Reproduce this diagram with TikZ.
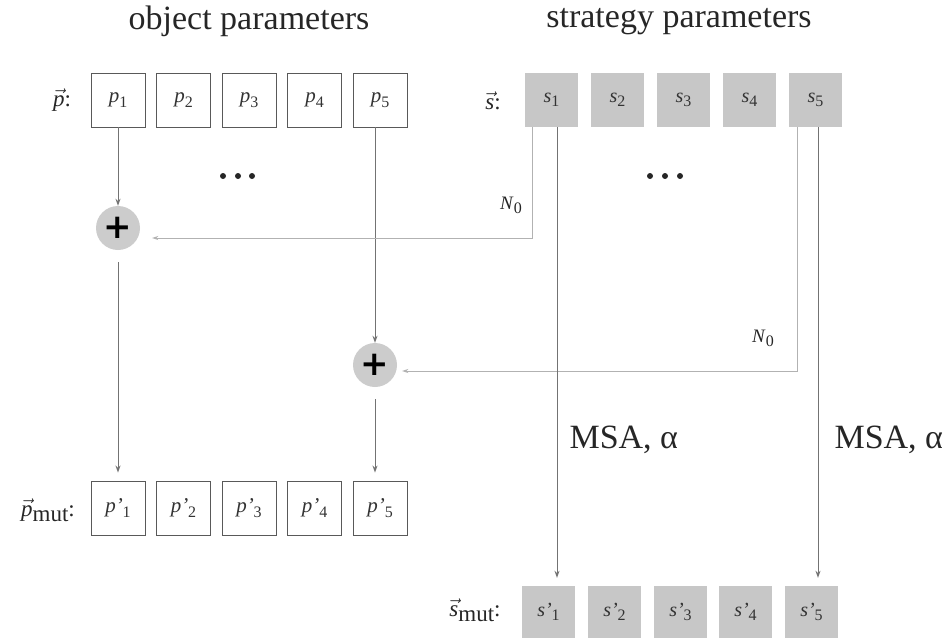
\documentclass[tikz,border=0pt]{standalone}
\usepackage{fontspec}
\setmainfont{Liberation Serif}
\newfontfamily\plusfont{DejaVu Sans}
\usetikzlibrary{arrows.meta}
\newcommand{\vsub}[2]{\textit{#1}\raisebox{-0.45ex}{\fontsize{16}{16}\selectfont #2}}
\newcommand{\vlab}[1]{$\vec{\mbox{\itshape #1}}$}
\begin{document}
\begin{tikzpicture}[x=1pt,y=-1pt,
 pbox/.style={draw=black!65, line width=0.9pt, minimum width=54pt, minimum height=54pt, inner sep=0pt, font=\fontsize{21}{21}\selectfont, text=black!80},
 sbox/.style={fill=black!22, minimum width=53pt, minimum height=54pt, inner sep=0pt, font=\fontsize{20}{20}\selectfont, text=black!80},
 plusc/.style={circle, fill=black!20, minimum size=44pt, inner sep=0pt, font=\fontsize{34}{34}\plusfont\bfseries},
 flow/.style={draw=black!55, line width=1pt, -{Stealth[length=7pt,width=5pt]}},
 noise/.style={draw=black!30, line width=1pt, -{Stealth[length=6pt,width=4pt]}},
 title/.style={font=\fontsize{34}{34}\selectfont, text=black!85},
 lab/.style={font=\fontsize{23}{23}\selectfont, text=black!85},
 nlab/.style={font=\fontsize{19}{19}\selectfont, text=black!85},
 msa/.style={font=\fontsize{34}{34}\selectfont, text=black!85, anchor=west},
 dot/.style={circle, fill=black!85, minimum size=6pt, inner sep=0pt},
 ]
\useasboundingbox (0,0) rectangle (945,640);

% titles
\node[title] (t1) at (249,21) {object parameters};
\node[title] (t2) at (679,22) {strategy parameters};

% object parameter boxes
\node[lab] (plab) at (62,100) {\vlab{p}:};
\foreach \i/\x in {1/118,2/183.5,3/249,4/314.5,5/380}{
  \node[pbox] (p\i) at (\x,100) {\vsub{p}{\i}};
  \node[pbox] (q\i) at (\x,508) {\vsub{p'}{\i}};
}
\node[lab] (pmlab) at (48,510) {\vlab{p}\raisebox{-0.45ex}{mut}:};

% strategy parameter boxes
\node[lab] (slab) at (493,101) {\vlab{s}:};
\foreach \i/\x in {1/551.5,2/617.5,3/683.5,4/749.5,5/815.5}{
  \node[sbox] (s\i) at (\x,100) {\vsub{s}{\i}};
}
\foreach \i/\x in {1/548.5,2/614.5,3/680.5,4/745.5,5/811.5}{
  \node[sbox, minimum height=52pt] (r\i) at (\x,612) {\vsub{s'}{\i}};
}
\node[lab] (smlab) at (475,610) {\vlab{s}\raisebox{-0.45ex}{mut}:};

% dots
\foreach \j/\x in {1/223,2/238,3/252}{ \node[dot] (da\j) at (\x,176) {}; }
\foreach \j/\x in {1/650,2/665,3/680}{ \node[dot] (db\j) at (\x,176) {}; }

% plus circles
\node[plusc] (plus1) at (118,228) {+};
\node[plusc] (plus2) at (375,365) {+};

% coordinates for connector columns
\coordinate (c1) at (532,238);
\coordinate (c5) at (797,371);
\coordinate (m1) at (557,0);
\coordinate (m5) at (818,0);

% object flows
\draw[flow] (p1) -- (plus1);
\draw[flow, shorten <=12pt, shorten >=8pt] (plus1) -- (q1);
\draw[flow] (plus2 |- p5.south) -- (plus2.north);
\draw[flow, shorten <=12pt, shorten >=8pt] (plus2.south) -- (plus2 |- q5.north);

% noise connectors
\draw[noise] (s1.south -| c1) |- ([xshift=12pt]plus1.east |- c1);
\draw[noise] (s5.south -| c5) |- ([xshift=5pt]plus2.east |- c5);
\node[nlab] (n1) at (511,205) {\vsub{N}{0}};
\node[nlab] (n5) at (763,338) {\vsub{N}{0}};

% strategy flows
\draw[flow, shorten >=8pt] (s1.south -| m1) -- (r1.north -| m1);
\draw[flow, shorten >=8pt] (s5.south -| m5) -- (r5.north -| m5);
\node[msa] (msa1) at (566,440) {MSA, α};
\node[msa] (msa5) at (831,440) {MSA, α};
\end{tikzpicture}
\end{document}
